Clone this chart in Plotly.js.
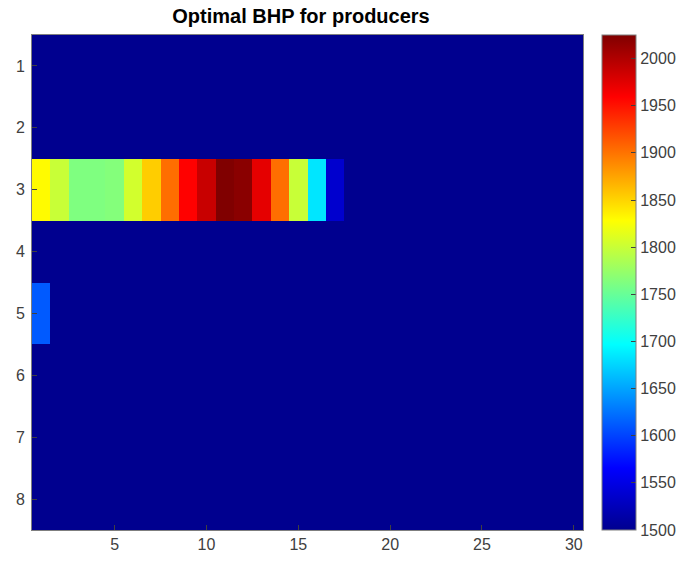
<!DOCTYPE html>
<html>
<head>
<meta charset="utf-8">
<script src="https://cdn.plot.ly/plotly-3.0.1.min.js"></script>
<style>html,body{margin:0;padding:0;background:#fff;}#chart{width:694px;height:571px;}</style>
</head>
<body>
<div id="chart"></div>
<script>
// Columns (time steps) and rows (producers)
const steps = Array.from({length: 30}, (_, i) => i + 1);
const producers = [1, 2, 3, 4, 5, 6, 7, 8];
const base = 1500;
// Row 3 values for columns 1..17 (rest at base)
const row3Values = [1830, 1800, 1762, 1762, 1765, 1805, 1854, 1903, 1959, 1988, 2025, 2020, 1973, 1903, 1800, 1684, 1537];
// Row 5 values for column 1
const row5Values = [1612];
const xTicks = [5, 10, 15, 20, 25, 30];
const cbTicks = [1500, 1550, 1600, 1650, 1700, 1750, 1800, 1850, 1900, 1950, 2000];

function buildRow(vals) {
  return steps.map((s, i) => (i < vals.length ? vals[i] : base));
}
const z = producers.map(p => {
  if (p === 3) return buildRow(row3Values);
  if (p === 5) return buildRow(row5Values);
  return buildRow([]);
});

const jet = [
  [0, 'rgb(0,0,143)'],
  [0.125, 'rgb(0,0,255)'],
  [0.375, 'rgb(0,255,255)'],
  [0.625, 'rgb(255,255,0)'],
  [0.875, 'rgb(255,0,0)'],
  [1, 'rgb(128,0,0)']
];

const font = {family: 'Liberation Sans, Arial, sans-serif', size: 16, color: '#404040'};

const trace = {
  type: 'heatmap',
  x: steps,
  y: producers,
  z: z,
  zmin: 1500,
  zmax: 2025,
  colorscale: jet,
  hoverongaps: false,
  colorbar: {
    x: 1.0345, xanchor: 'left', xpad: 0,
    y: 0.5, yanchor: 'middle', ypad: 0,
    len: 1, lenmode: 'fraction',
    thickness: 34, thicknessmode: 'pixels',
    outlinewidth: 1, outlinecolor: '#7f7f7f',
    tickvals: cbTicks,
    ticks: 'inside', ticklen: 5, tickcolor: '#404040',
    tickfont: font
  }
};

const layout = {
  width: 694, height: 571,
  margin: {l: 32, r: 111, t: 35, b: 41},
  paper_bgcolor: '#fff', plot_bgcolor: '#fff',
  font: font,
  title: {
    text: '<b>Optimal BHP for producers</b>',
    font: {family: 'Liberation Sans, Arial, sans-serif', size: 20, color: '#000'},
    x: 301/694, xanchor: 'center', xref: 'container',
    y: 1 - 16/571, yanchor: 'middle', yref: 'container'
  },
  xaxis: {
    range: [0.5, 30.5],
    tickvals: xTicks,
    ticks: 'inside', ticklen: 5, tickcolor: '#404040',
    showgrid: false, zeroline: false,
    showline: true, mirror: true, linecolor: '#7f7f7f', linewidth: 1,
    tickfont: font
  },
  yaxis: {
    range: [8.5, 0.5],
    tickvals: producers,
    ticks: 'inside', ticklen: 5, tickcolor: '#404040',
    ticklabelstandoff: 3,
    showgrid: false, zeroline: false,
    showline: true, mirror: true, linecolor: '#7f7f7f', linewidth: 1,
    tickfont: font
  }
};

Plotly.newPlot('chart', [trace], layout, {displayModeBar: false, staticPlot: true});
</script>
</body>
</html>
